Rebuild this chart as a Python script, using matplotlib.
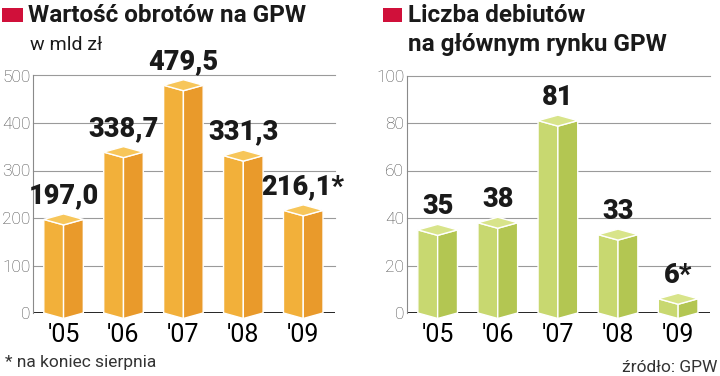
import matplotlib
matplotlib.use("Agg")
import matplotlib.pyplot as plt
from matplotlib.patches import Polygon, Rectangle

plt.rcParams['font.family'] = ['Roboto', 'DejaVu Sans']

# data
years = ["'05", "'06", "'07", "'08", "'09"]
turnover = [197.0, 338.7, 479.5, 331.3, 216.1]
turnover_labels = ["197,0", "338,7", "479,5", "331,3", "216,1*"]
debuts = [35, 38, 81, 33, 6]
debut_labels = ["35", "38", "81", "33", "6*"]

orange = {'left': '#F2B03A', 'right': '#E99A2B', 'top': '#F7C65A'}
green = {'left': '#C8D870', 'right': '#B3C652', 'top': '#D8E48A'}

W, H = 720, 376
fig = plt.figure(figsize=(W / 100, H / 100), dpi=100)


def draw_box(ax, x, v, cols, half=0.33, depth_px=5.5):
    # depth in data units from pixel offset
    y0, y1 = ax.get_ylim()
    ax_h = ax.get_position().height * H
    d = depth_px * (y1 - y0) / ax_h
    kw = dict(edgecolor='white', linewidth=1.0, zorder=3, clip_on=False)
    ax.add_patch(Polygon([(x - half, 0), (x, -d), (x, v - d), (x - half, v)],
                         facecolor=cols['left'], **kw))
    ax.add_patch(Polygon([(x, -d), (x + half, 0), (x + half, v), (x, v - d)],
                         facecolor=cols['right'], **kw))
    ax.add_patch(Polygon([(x - half, v), (x, v - d), (x + half, v), (x, v + d)],
                         facecolor=cols['top'], **kw))


def panel(ax, values, labels, ymax, step, cols):
    ax.set_ylim(0, ymax)
    ax.set_xlim(-0.51, 4.53)
    ax.set_yticks(range(0, ymax + 1, step))
    ax.set_xticks(range(len(years)))
    ax.set_xticklabels(years, fontsize=18)
    for s in ['top', 'right', 'bottom']:
        ax.spines[s].set_visible(False)
    ax.spines['left'].set_color('#8a8a8a')
    ax.spines['left'].set_linewidth(0.8)
    ax.tick_params(axis='y', length=0, pad=2, labelsize=12.5, labelcolor='#4a4a4a')
    for lab in ax.get_yticklabels():
        lab.set_fontweight('light')
    ax.tick_params(axis='x', length=0, pad=7)
    for t in range(step, ymax + 1, step):
        ax.axhline(t, color='#9a9a9a', linewidth=0.8, zorder=1, clip_on=False)
    ax.axhline(0, color='#111111', linewidth=2, zorder=2)
    for i, v in enumerate(values):
        draw_box(ax, i, v, cols)
        ax.annotate(labels[i], (i, v), xytext=(0, 17), textcoords='offset points',
                    ha='center', va='center', fontsize=19.5, fontweight='black',
                    color='#1a1a1a', zorder=4)


ax1 = fig.add_axes([33 / W, 63 / H, 302 / W, 237.5 / H])
panel(ax1, turnover, turnover_labels, 500, 100, orange)
ax2 = fig.add_axes([407 / W, 63 / H, 303 / W, 237.5 / H])
panel(ax2, debuts, debut_labels, 100, 20, green)

# titles with red squares
red = '#D0103A'
fig.add_artist(Rectangle((2 / W, 1 - 22 / H), 21 / W, 14 / H, transform=fig.transFigure,
                         facecolor=red, edgecolor='none'))
fig.text(28 / W, 1 - 15 / H, 'Wartość obrotów na GPW', fontsize=17.5, fontweight='bold',
         va='center', ha='left', color='#1a1a1a')
fig.text(30 / W, 1 - 45 / H, 'w mld zł', fontsize=14, va='center', ha='left', color='#1a1a1a')

fig.add_artist(Rectangle((383 / W, 1 - 22 / H), 19 / W, 14 / H, transform=fig.transFigure,
                         facecolor=red, edgecolor='none'))
fig.text(408 / W, 1 - 15 / H, 'Liczba debiutów', fontsize=17.5, fontweight='bold',
         va='center', ha='left', color='#1a1a1a')
fig.text(408 / W, 1 - 45 / H, 'na głównym rynku GPW', fontsize=17.5, fontweight='bold',
         va='center', ha='left', color='#1a1a1a')

fig.text(5 / W, 1 - 362 / H, '* na koniec sierpnia', fontsize=12.5, va='center', ha='left',
         color='#333333')
fig.text(717 / W, 1 - 367 / H, 'źródło: GPW', fontsize=12.5, va='center', ha='right',
         color='#333333')

fig.savefig('out.png', dpi=100)
